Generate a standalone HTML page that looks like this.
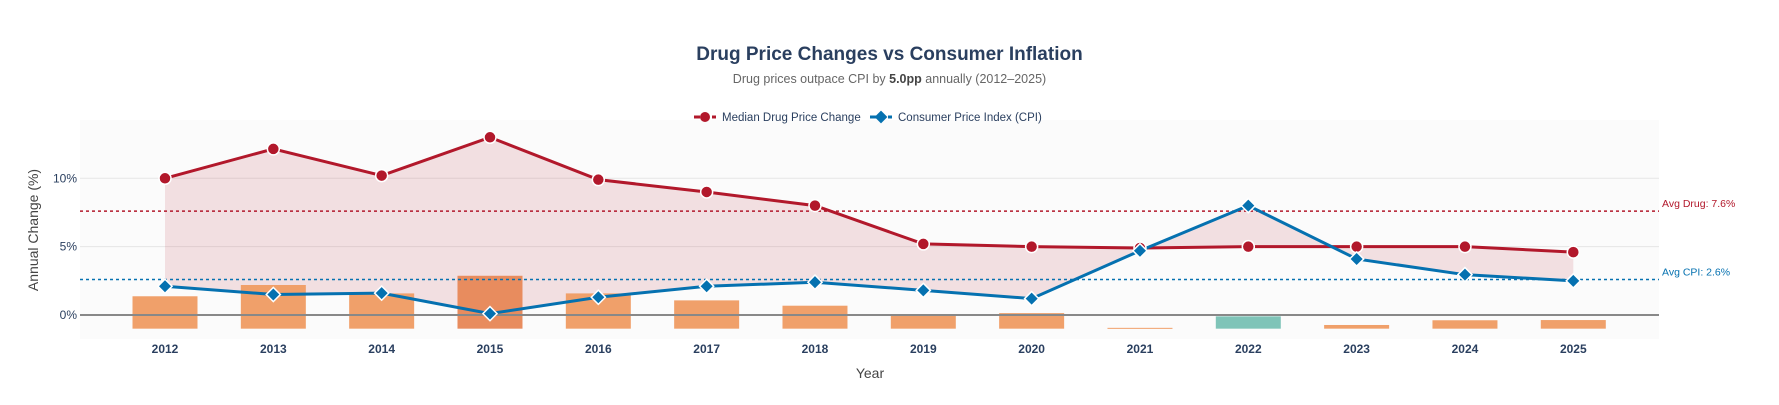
<!DOCTYPE html>
<html><head><meta charset="utf-8"><style>
body{margin:0;background:#fff;font-family:"Liberation Sans",sans-serif;}
svg text{font-family:"Liberation Sans",sans-serif;}
</style></head><body>
<svg id="chart" width="1779" height="400" xmlns="http://www.w3.org/2000/svg">
<rect x="0" y="0" width="1779" height="400" fill="#fff"/>
<text x="889.5" y="60" text-anchor="middle" font-size="19" font-weight="bold" fill="#2a3f5f">Drug Price Changes vs Consumer Inflation</text>
<text x="889.5" y="83" text-anchor="middle" font-size="12.5" fill="#666">Drug prices outpace CPI by <tspan font-weight="bold" fill="#444">5.0pp</tspan> annually (2012–2025)</text>
<rect x="80" y="120" width="1579" height="219" fill="#fbfbfb"/>
<g id="grid"></g>
<g id="fill"></g>
<g id="bars"></g>
<g id="refs"></g>
<g id="lines"></g>
<g id="axes"></g>
<g transform="translate(694,117)">
<g>
<line x1="0" y1="0" x2="22" y2="0" stroke="#b2182b" stroke-width="3" stroke-dasharray="6,3"/>
<circle cx="11" cy="0" r="5" fill="#b2182b"/>
<text x="28" y="4" font-size="11.5" fill="#2a3f5f">Median Drug Price Change</text></g>
<g transform="translate(176,0)">
<line x1="0" y1="0" x2="22" y2="0" stroke="#0571b0" stroke-width="3" stroke-dasharray="6,3"/>
<rect x="6.5" y="-4.5" width="9" height="9" fill="#0571b0" transform="rotate(45 11 0)"/>
<text x="28" y="4" font-size="11.5" fill="#2a3f5f">Consumer Price Index (CPI)</text></g>
</g>
<text x="870" y="378" text-anchor="middle" font-size="14" fill="#444">Year</text>
<text transform="translate(38,230) rotate(-90)" text-anchor="middle" font-size="14" fill="#444">Annual Change (%)</text>
</svg>
<script>
const years = ['2012','2013','2014','2015','2016','2017','2018','2019','2020','2021','2022','2023','2024','2025'];
const drug = [10.0,12.15,10.2,13.0,9.9,9.0,8.0,5.2,5.0,4.9,5.0,5.0,5.0,4.6];
const cpi = [2.1,1.5,1.6,0.1,1.3,2.1,2.4,1.8,1.2,4.7,8.0,4.1,2.95,2.5];
const yTicks = [0,5,10];
const yTickLabels = ['0%','5%','10%'];
const avgDrug = 7.6;
const avgCpi = 2.6;
const NS='http://www.w3.org/2000/svg';
const X0=80,X1=1659;
function x(i){return 165+108.33*i;}
function y(v){return 315-13.67*v;}
function mk(tag,attrs,parent){const e=document.createElementNS(NS,tag);for(const k in attrs)e.setAttribute(k,attrs[k]);document.getElementById(parent).appendChild(e);return e;}
yTicks.forEach((t,i)=>{
  if(t!==0){const g=mk('line',{x1:X0,x2:X1,y1:y(t),y2:y(t),stroke:'#e6e6e6','stroke-width':1},'grid');
  
  }
  const tl=mk('text',{x:77,y:y(t)+4,'text-anchor':'end','font-size':12,fill:'#2a3f5f'},'axes');
  tl.textContent=yTickLabels[i];
  
  
});
// fill between
let d='M'+drug.map((v,i)=>x(i)+','+y(v)).join(' L')+' L'+cpi.map((v,i)=>x(i)+','+y(v)).reverse().join(' L')+' Z';
const f=mk('path',{d:d,fill:'rgba(178,24,43,0.12)'},'fill');


// bars
const gaps=drug.map((v,i)=>v-cpi[i]);
const maxGap=Math.max(...gaps);
gaps.forEach((g,i)=>{
  const top=-1+Math.abs(g)*0.3;
  const col=g<0?'#7fc4b8':(g===maxGap?'#e88c5e':'#f0a06a');
  const b=mk('rect',{x:x(i)-32.5,y:y(top),width:65,height:Math.max(y(-1)-y(top),1),fill:col},'bars');
  
  
});
// zero line
const z=mk('line',{x1:X0,x2:X1,y1:y(0),y2:y(0),stroke:'#888','stroke-width':2},'refs');


[[avgDrug,'#b2182b','Avg Drug: '+avgDrug.toFixed(1)+'%','avg-drug'],[avgCpi,'#0571b0','Avg CPI: '+avgCpi.toFixed(1)+'%','avg-cpi']].forEach(r=>{
  const l=mk('line',{x1:X0,x2:X1,y1:y(r[0]),y2:y(r[0]),stroke:r[1],'stroke-width':1.5,'stroke-dasharray':'3,3'},'refs');
  
  
  const t=mk('text',{x:1662,y:y(r[0])-4,'font-size':10.5,fill:r[1]},'refs');
  t.textContent=r[2];
  
  
});
// lines
const ld=mk('polyline',{points:drug.map((v,i)=>x(i)+','+y(v)).join(' '),fill:'none',stroke:'#b2182b','stroke-width':3},'lines');


const lc=mk('polyline',{points:cpi.map((v,i)=>x(i)+','+y(v)).join(' '),fill:'none',stroke:'#0571b0','stroke-width':3},'lines');


drug.forEach((v,i)=>{
  const c=mk('circle',{cx:x(i),cy:y(v),r:6,fill:'#b2182b',stroke:'#fff','stroke-width':1.5},'lines');
  
  
});
cpi.forEach((v,i)=>{
  const c=mk('rect',{x:x(i)-5,y:y(v)-5,width:10,height:10,fill:'#0571b0',stroke:'#fff','stroke-width':1.5,transform:'rotate(45 '+x(i)+' '+y(v)+')'},'lines');
  
  
});
years.forEach((yr,i)=>{
  const t=mk('text',{x:x(i),y:353,'text-anchor':'middle','font-size':12,'font-weight':'bold',fill:'#2a3f5f'},'axes');
  t.textContent=yr;
  
  
});
</script>
</body></html>
